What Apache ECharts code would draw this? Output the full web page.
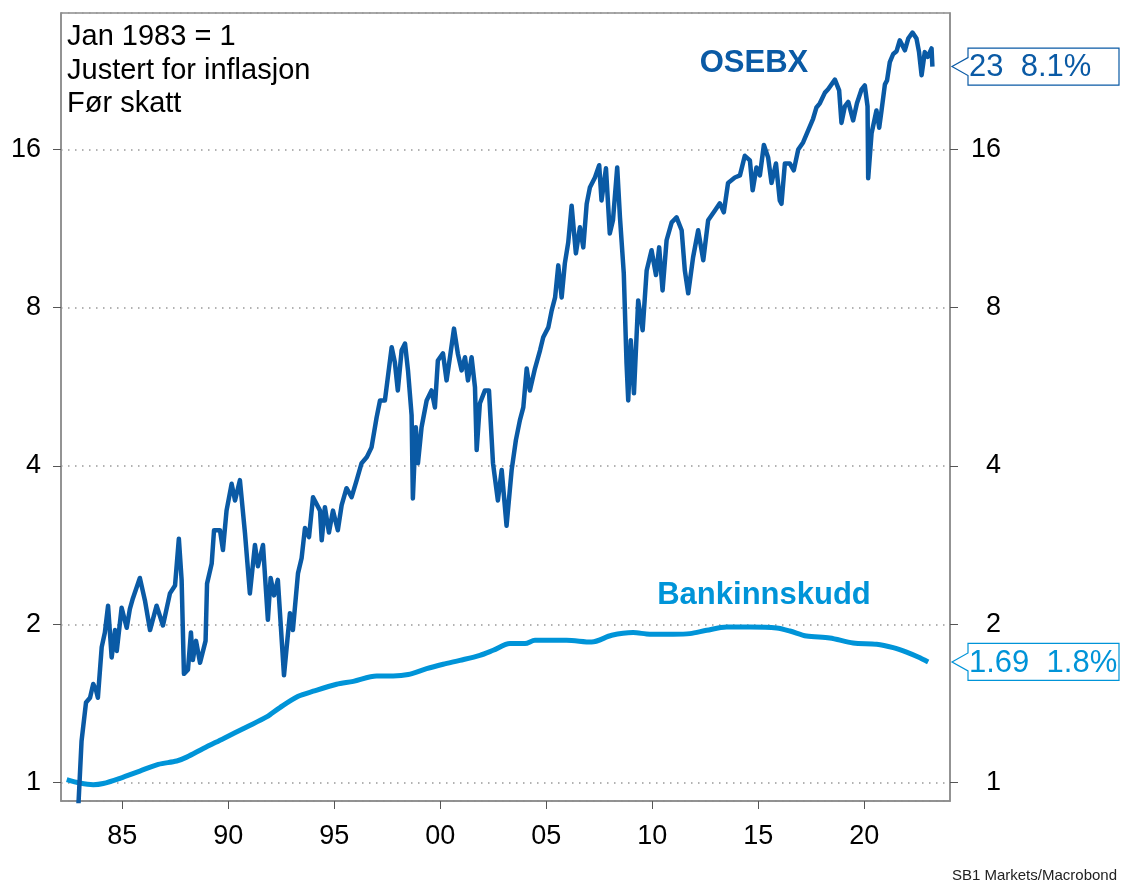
<!DOCTYPE html>
<html>
<head>
<meta charset="utf-8">
<title>OSEBX vs Bankinnskudd</title>
<script src="https://cdn.jsdelivr.net/npm/echarts@6/dist/echarts.min.js"></script>
<style>
html, body { margin: 0; padding: 0; background: #fff; }
#main { width: 1121px; height: 884px; }
</style>
</head>
<body>
<div id="main"></div>
<script>
var osebxYears = [
	1982.91, 1983.08, 1983.29, 1983.48, 1983.63, 1983.76, 1983.85, 1984.03, 1984.18, 1984.33,
	1984.50, 1984.66, 1984.74, 1984.97, 1985.21, 1985.36, 1985.50, 1985.83, 1986.07, 1986.31,
	1986.62, 1986.92, 1987.25, 1987.49, 1987.67, 1987.80, 1987.91, 1988.10, 1988.24, 1988.33,
	1988.48, 1988.67, 1988.93, 1989.00, 1989.22, 1989.33, 1989.61, 1989.75, 1989.92, 1990.16,
	1990.32, 1990.55, 1990.79, 1991.02, 1991.26, 1991.40, 1991.64, 1991.87, 1992.00, 1992.16,
	1992.34, 1992.63, 1992.91, 1993.05, 1993.29, 1993.46, 1993.62, 1993.81, 1994.00, 1994.33,
	1994.41, 1994.56, 1994.75, 1994.94, 1995.17, 1995.35, 1995.58, 1995.82, 1996.06, 1996.29,
	1996.54, 1996.76, 1997.00, 1997.16, 1997.39, 1997.53, 1997.71, 1997.86, 1998.00, 1998.18,
	1998.34, 1998.48, 1998.65, 1998.71, 1998.85, 1998.95, 1999.12, 1999.36, 1999.59, 1999.75,
	1999.89, 2000.13, 2000.30, 2000.46, 2000.65, 2000.83, 2001.01, 2001.17, 2001.31, 2001.48,
	2001.64, 2001.72, 2001.87, 2002.11, 2002.30, 2002.49, 2002.72, 2002.90, 2003.13, 2003.37,
	2003.57, 2003.76, 2003.92, 2004.08, 2004.23, 2004.47, 2004.71, 2004.86, 2005.10, 2005.26,
	2005.42, 2005.57, 2005.73, 2005.88, 2006.04, 2006.20, 2006.40, 2006.59, 2006.75, 2006.91,
	2007.06, 2007.30, 2007.50, 2007.61, 2007.82, 2008.00, 2008.15, 2008.35, 2008.48, 2008.66,
	2008.79, 2008.87, 2008.99, 2009.14, 2009.34, 2009.55, 2009.74, 2009.97, 2010.18, 2010.33,
	2010.49, 2010.68, 2010.92, 2011.15, 2011.39, 2011.54, 2011.70, 2011.93, 2012.17, 2012.41,
	2012.64, 2012.96, 2013.19, 2013.38, 2013.58, 2013.90, 2014.14, 2014.37, 2014.61, 2014.74,
	2014.92, 2015.08, 2015.27, 2015.47, 2015.63, 2015.84, 2016.02, 2016.10, 2016.26, 2016.49,
	2016.68, 2016.89, 2017.12, 2017.36, 2017.59, 2017.75, 2017.91, 2018.15, 2018.30, 2018.62,
	2018.82, 2018.93, 2019.09, 2019.25, 2019.48, 2019.66, 2019.88, 2020.03, 2020.16, 2020.19,
	2020.35, 2020.46, 2020.58, 2020.71, 2020.82, 2020.98, 2021.08, 2021.21, 2021.37, 2021.53,
	2021.68, 2021.92, 2022.08, 2022.28, 2022.47, 2022.59, 2022.71, 2022.86, 2023.00, 2023.18,
	2023.22
];
var osebxValues = [
	0.87, 1.20, 1.42, 1.45, 1.54, 1.50, 1.45, 1.81, 1.93, 2.17,
	1.73, 1.95, 1.78, 2.15, 1.97, 2.14, 2.24, 2.45, 2.22, 1.95,
	2.17, 1.99, 2.29, 2.37, 2.91, 2.43, 1.61, 1.64, 1.93, 1.71,
	1.86, 1.69, 1.86, 2.39, 2.61, 3.02, 3.02, 2.77, 3.29, 3.70,
	3.44, 3.76, 2.98, 2.29, 2.83, 2.58, 2.83, 2.04, 2.45, 2.27,
	2.43, 1.60, 2.10, 1.95, 2.50, 2.67, 3.05, 2.93, 3.49, 3.29,
	2.89, 3.34, 2.99, 3.29, 3.02, 3.37, 3.63, 3.49, 3.76, 4.05,
	4.16, 4.34, 4.95, 5.33, 5.33, 5.90, 6.73, 6.30, 5.57, 6.64,
	6.84, 6.08, 5.00, 3.47, 4.74, 4.05, 4.74, 5.33, 5.57, 5.17,
	6.35, 6.55, 5.82, 6.44, 7.30, 6.55, 6.08, 6.44, 5.82, 6.44,
	5.65, 4.29, 5.26, 5.57, 5.57, 4.05, 3.44, 3.93, 3.08, 3.93,
	4.48, 4.89, 5.17, 6.13, 5.57, 6.13, 6.64, 7.03, 7.34, 7.91,
	8.37, 9.63, 8.37, 9.72, 10.65, 12.50, 10.15, 11.38, 10.42, 12.61,
	13.54, 14.15, 14.93, 12.80, 14.73, 11.07, 11.73, 14.79, 11.88, 9.30,
	6.27, 5.33, 6.94, 5.50, 8.26, 7.25, 9.42, 10.29, 9.23, 10.42,
	8.63, 10.75, 11.63, 11.88, 11.23, 9.42, 8.52, 9.98, 11.23, 9.85,
	11.73, 12.25, 12.64, 12.15, 13.82, 14.15, 14.28, 15.56, 15.25, 13.38,
	14.79, 14.28, 16.32, 15.45, 13.82, 15.05, 12.80, 12.61, 15.05, 15.05,
	14.60, 16.00, 16.50, 17.39, 18.30, 19.23, 19.58, 20.52, 20.82, 21.72,
	20.72, 17.97, 19.32, 19.70, 18.17, 19.58, 20.82, 21.18, 19.32, 14.10,
	17.17, 18.00, 18.98, 17.60, 18.98, 21.28, 21.65, 23.45, 24.30, 24.60,
	25.80, 24.70, 26.00, 26.70, 26.00, 24.50, 22.15, 24.50, 24.00, 24.90,
	23.00
];

// Bankinnskudd, real value
var bankYears = [
	1982.38, 1983.00, 1983.63, 1984.10, 1984.89, 1985.83, 1986.70, 1987.57, 1988.04, 1988.82,
	1989.76, 1990.87, 1991.81, 1992.44, 1993.30, 1994.01, 1995.11, 1995.90, 1997.00, 1997.78,
	1998.49, 1999.36, 2000.14, 2000.93, 2001.87, 2002.50, 2003.29, 2004.00, 2004.47, 2005.96,
	2007.14, 2008.09, 2009.10, 2009.89, 2010.99, 2011.78, 2012.57, 2013.51, 2014.61, 2015.87,
	2016.50, 2017.28, 2018.38, 2019.48, 2020.59, 2021.37, 2022.00, 2022.55, 2023.02
];
var bankValues = [
	1.013, 0.998, 0.991, 0.996, 1.019, 1.052, 1.083, 1.099, 1.118, 1.161,
	1.212, 1.276, 1.333, 1.389, 1.459, 1.492, 1.538, 1.558, 1.595, 1.595,
	1.605, 1.647, 1.679, 1.708, 1.746, 1.785, 1.838, 1.838, 1.865, 1.865,
	1.851, 1.906, 1.929, 1.915, 1.915, 1.920, 1.948, 1.976, 1.976, 1.968,
	1.942, 1.900, 1.884, 1.843, 1.833, 1.806, 1.771, 1.733, 1.696
];

var xTicks = [1985, 1990, 1995, 2000, 2005, 2010, 2015, 2020];
var noteLines = ['Jan 1983 = 1', 'Justert for inflasjon', 'Før skatt'];
var osebxTag = '23  8.1%';
var bankTag = '1.69  1.8%';

var darkBlue = '#0a5aa5';
var lightBlue = '#0094d8';
var axisGrey = '#8c8c8c';
var fontName = '"Liberation Sans", Arial, sans-serif';

function zip(xs, ys) {
	var out = [];
	for (var i = 0; i < xs.length; i++) {
		out.push([xs[i], ys[i]]);
	}
	return out;
}

var dom = document.getElementById('main');
var myChart = echarts.init(dom, null, { renderer: 'canvas' });

var yAxisBase = {
	type : 'log',
	logBase : 2,
	min : 0.9226,
	max : 29.08,
	axisLine : { show : true, lineStyle : { color : axisGrey, width : 1.5 } },
	axisTick : { show : true, inside : false, length : 8, lineStyle : { color : '#555' } },
	axisLabel : {
		color : '#000',
		fontSize : 27,
		fontFamily : fontName,
		showMinLabel : false,
		showMaxLabel : false
	}
};

var option = {
	animation : false,
	grid : {
		left : 61,
		top : 13,
		width : 889,
		height : 788,
		show : true,
		borderColor : axisGrey,
		borderWidth : 1.5,
		backgroundColor : 'transparent'
	},
	xAxis : {
		type : 'value',
		min : 1982.11,
		max : 2024.05,
		splitNumber : 9,
		axisLine : { show : true, lineStyle : { color : axisGrey, width : 1.5 } },
		axisTick : { show : true, inside : false, length : 8, lineStyle : { color : '#555' }, customValues : xTicks },
		splitLine : { show : false },
		axisLabel : {
			customValues : xTicks,
			color : '#000',
			fontSize : 27,
			fontFamily : fontName,
			margin : 22,
			formatter : function(v) {
				var y = Math.round(v) % 100;
				return (y < 10 ? '0' : '') + y;
			}
		}
	},
	yAxis : [
		echarts.util.merge({
			position : 'left',
			splitLine : { show : true, lineStyle : { color : '#999', width : 1.5, type : [1.5, 5.5] } },
			axisLabel : { margin : 20 }
		}, yAxisBase, false),
		echarts.util.merge({
			position : 'right',
			splitLine : { show : false },
			axisLabel : { margin : 51, align : 'right' }
		}, yAxisBase, false)
	],
	series : [ {
		name : 'Bankinnskudd',
		type : 'line',
		data : zip(bankYears, bankValues),
		showSymbol : false,
		smooth : 0.3,
		lineStyle : { color : lightBlue, width : 5 },
		z : 2
	}, {
		name : 'OSEBX',
		type : 'line',
		data : zip(osebxYears, osebxValues),
		showSymbol : false,
		lineStyle : { color : darkBlue, width : 4.5, join : 'round' },
		z : 3
	} ]
};

myChart.setOption(option, true);

// callout boxes at the right edge, placed at the last value of each series
function callout(tipY, text, color) {
	var tipX = 952, bx = 968, bw = 151, half = 18.5;
	return {
		type : 'group',
		children : [ {
			type : 'polygon',
			shape : {
				points : [ [ bx + bw, tipY - half ], [ bx, tipY - half ], [ bx, tipY - 9 ], [ tipX, tipY ],
						[ bx, tipY + 9 ], [ bx, tipY + half ], [ bx + bw, tipY + half ] ]
			},
			style : { fill : '#fff', stroke : color, lineWidth : 1.2 }
		}, {
			type : 'text',
			x : bx + 1,
			y : tipY + 1,
			style : { text : text, fill : color, font : '31px ' + fontName, verticalAlign : 'middle' }
		} ]
	};
}

var nO = osebxYears.length - 1;
var nB = bankYears.length - 1;
var pO = myChart.convertToPixel({ gridIndex : 0 }, [ osebxYears[nO], osebxValues[nO] ]);
var pB = myChart.convertToPixel({ gridIndex : 0 }, [ bankYears[nB], bankValues[nB] ]);

var graphics = [];
for (var i = 0; i < noteLines.length; i++) {
	graphics.push({
		type : 'text',
		x : 67,
		y : 37 + i * 33.7,
		style : { text : noteLines[i], fill : '#000', font : '29px ' + fontName, verticalAlign : 'middle' }
	});
}
graphics.push({
	type : 'text', x : 754, y : 63,
	style : { text : 'OSEBX', fill : darkBlue, font : 'bold 31px ' + fontName, align : 'center', verticalAlign : 'middle' }
});
graphics.push({
	type : 'text', x : 764, y : 595,
	style : { text : 'Bankinnskudd', fill : lightBlue, font : 'bold 31px ' + fontName, align : 'center', verticalAlign : 'middle' }
});
graphics.push({
	type : 'text', x : 1117, y : 876,
	style : { text : 'SB1 Markets/Macrobond', fill : '#222', font : '15px ' + fontName, align : 'right', verticalAlign : 'middle' }
});
graphics.push(callout(pO[1], osebxTag, darkBlue));
graphics.push(callout(pB[1], bankTag, lightBlue));

myChart.setOption({ graphic : graphics });
</script>
</body>
</html>
